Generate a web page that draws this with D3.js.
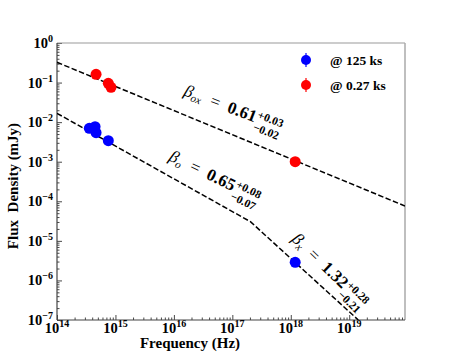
<!DOCTYPE html>
<html><head><meta charset="utf-8">
<script src="https://cdn.jsdelivr.net/npm/d3@7"></script>
<style>body{margin:0;background:#fff}svg{display:block}</style>
</head><body>
<svg id="c" width="450" height="360"></svg>
<script>
// ---- data ----
const blueNu = [3.57e14, 4.48e14, 4.66e14, 7.55e14, 1.19e18];
const blueF  = [6.98e-3, 7.67e-3, 5.4e-3, 3.4e-3, 2.87e-6];
const redNu  = [4.66e14, 7.55e14, 8.4e14, 1.19e18];
const redF   = [0.162, 0.096, 0.076, 1.0e-3];
// model lines (vertices)
const lineOxNu = [1e14, 9e19];
const lineOxF  = [0.325, 7.6e-5];
const lineOxNuB = [1e14, 2.04e17, 1.43e19];
const lineOxFB  = [0.0167, 3.05e-5, 1e-7];
const xTickExp = [14, 15, 16, 17, 18, 19];
const yTickExp = [0, -1, -2, -3, -4, -5, -6, -7];
const legendLabels = ["@ 125 ks", "@ 0.27 ks"];
const legendColors = ["#0000ff", "#ff0000"];

const svg = d3.select("#c");
const FONT = "'Liberation Serif', 'Times New Roman', serif";
const L = 57, R = 405, T = 43, B = 320;
const x = d3.scaleLog().domain([1e14, 9e19]).range([L, R]);
const y = d3.scaleLog().domain([1e-7, 1]).range([B, T]);

svg.append("clipPath").attr("id","clip").append("rect")
  .attr("x", L).attr("y", T).attr("width", R-L).attr("height", B-T);

// minor tick values
const xMinor = [], yMinor = [];
for (let e = 14; e <= 19; e++) for (let k = 2; k <= 9; k++) { const v = k*Math.pow(10,e); if (v < 9e19) xMinor.push(v); }
for (let e = -7; e < 0; e++) for (let k = 2; k <= 9; k++) yMinor.push(k*Math.pow(10,e));

// axes
const gx = svg.append("g").attr("transform", `translate(0,${B})`);
gx.call(d3.axisBottom(x).tickValues(xMinor).tickSize(-2.5).tickFormat(""));
gx.call(g => g.select(".domain").remove());
const gx2 = svg.append("g").attr("transform", `translate(0,${B})`);
gx2.call(d3.axisBottom(x).tickValues(xTickExp.map(e => Math.pow(10,e))).tickSize(-5).tickFormat(""));
gx2.selectAll(".domain").remove();

const gy = svg.append("g").attr("transform", `translate(${L},0)`);
gy.call(d3.axisLeft(y).tickValues(yMinor).tickSize(-2.5).tickFormat(""));
gy.select(".domain").remove();
const gy2 = svg.append("g").attr("transform", `translate(${L},0)`);
gy2.call(d3.axisLeft(y).tickValues(yTickExp.map(e => Math.pow(10,e))).tickSize(-5).tickFormat(""));
gy2.select(".domain").remove();
svg.selectAll(".tick line").attr("stroke", "#333").attr("stroke-width", 0.9);

// frame
svg.append("line").attr("x1",L).attr("x2",R).attr("y1",T).attr("y2",T).attr("stroke","#999").attr("stroke-width",1.2);
svg.append("line").attr("x1",R).attr("x2",R).attr("y1",T).attr("y2",B).attr("stroke","#aaa").attr("stroke-width",1.5);
svg.append("line").attr("x1",L).attr("x2",R).attr("y1",B).attr("y2",B).attr("stroke","#444").attr("stroke-width",1.2);
svg.append("line").attr("x1",L).attr("x2",L).attr("y1",T).attr("y2",B).attr("stroke","#444").attr("stroke-width",1.2);

// tick labels
xTickExp.forEach(e => {
  const t = svg.append("text").attr("x", x(Math.pow(10,e))).attr("y", 333)
    .attr("text-anchor","middle").attr("font-family",FONT).attr("font-weight","bold").attr("font-size",14.5);
  t.append("tspan").text("10");
  t.append("tspan").attr("font-size",10).attr("dy",-6).text(String(e).replace("-","\u2212"));
});
yTickExp.forEach(e => {
  const t = svg.append("text").attr("x", 53).attr("y", y(Math.pow(10,e)) + 5)
    .attr("text-anchor","end").attr("font-family",FONT).attr("font-weight","bold").attr("font-size",14.5);
  t.append("tspan").text("10");
  t.append("tspan").attr("font-size",10).attr("dy",-6).text(String(e).replace("-","\u2212"));
});

// axis titles
svg.append("text").attr("x", 190).attr("y", 348).attr("text-anchor","middle")
  .attr("font-family",FONT).attr("font-weight","bold").attr("font-size",15).text("Frequency (Hz)");
svg.append("text").attr("transform","translate(18,186) rotate(-90)").attr("text-anchor","middle")
  .attr("font-family",FONT).attr("font-weight","bold").attr("font-size",15)
  .attr("xml:space","preserve").style("white-space","pre").text("Flux  Density (mJy)");

// model lines
const line = d3.line().x(d => x(d[0])).y(d => y(d[1]));
const plotG = svg.append("g").attr("clip-path","url(#clip)");
plotG.append("path").datum(d3.zip(lineOxNu, lineOxF)).attr("d", line)
  .attr("fill","none").attr("stroke","#000").attr("stroke-width",1.5).attr("stroke-dasharray","5.5,2.4");
plotG.append("path").datum(d3.zip(lineOxNuB, lineOxFB)).attr("d", line)
  .attr("fill","none").attr("stroke","#000").attr("stroke-width",1.5).attr("stroke-dasharray","5.5,2.4");

// points
plotG.selectAll(".b").data(d3.zip(blueNu, blueF)).join("circle")
  .attr("cx", d => x(d[0])).attr("cy", d => y(d[1])).attr("r", 5.5).attr("fill", legendColors[0]);
plotG.selectAll(".r").data(d3.zip(redNu, redF)).join("circle")
  .attr("cx", d => x(d[0])).attr("cy", d => y(d[1])).attr("r", 5.5).attr("fill", legendColors[1]);

// legend
legendLabels.forEach((lab, i) => {
  const cy = 60 + i*25;
  svg.append("line").attr("x1",306).attr("x2",306).attr("y1",cy-7).attr("y2",cy+7)
    .attr("stroke",legendColors[i]).attr("stroke-width",1.2);
  svg.append("circle").attr("cx",306).attr("cy",cy).attr("r",5).attr("fill",legendColors[i]);
  svg.append("text").attr("x",330).attr("y",cy+4.5).attr("font-family",FONT)
    .attr("font-weight","bold").attr("font-size",13.5).text(lab);
});

// annotations
function annot(x0, y0, ang, sub, val, sup, lo) {
  const g = svg.append("g").attr("transform", `translate(${x0},${y0}) rotate(${ang})`);
  const t = g.append("text").attr("font-family",FONT).attr("font-size",17);
  t.append("tspan").attr("font-style","italic").text("\u03b2");
  t.append("tspan").attr("font-style","italic").attr("font-size",11).attr("dy",3).text(sub);
  t.append("tspan").attr("dy",-3).attr("dx",9).text("=");
  t.append("tspan").attr("dx",9).attr("font-weight","bold").text(val);
  const w = t.node().getComputedTextLength() + 18;
  g.append("text").attr("x", w+1).attr("y",-5).attr("font-family",FONT).attr("font-size",11.5).attr("font-weight","bold").text(sup);
  g.append("text").attr("x", w+1).attr("y",8).attr("font-family",FONT).attr("font-size",11.5).attr("font-weight","bold").text(lo);
}
annot(183, 95, 21, "ox", "0.61", "+0.03", "\u22120.02");
annot(168, 160, 26, "o", "0.65", "+0.08", "\u22120.07");
annot(291, 240, 44, "x", "1.32", "+0.28", "\u22120.21");
</script>
</body></html>
